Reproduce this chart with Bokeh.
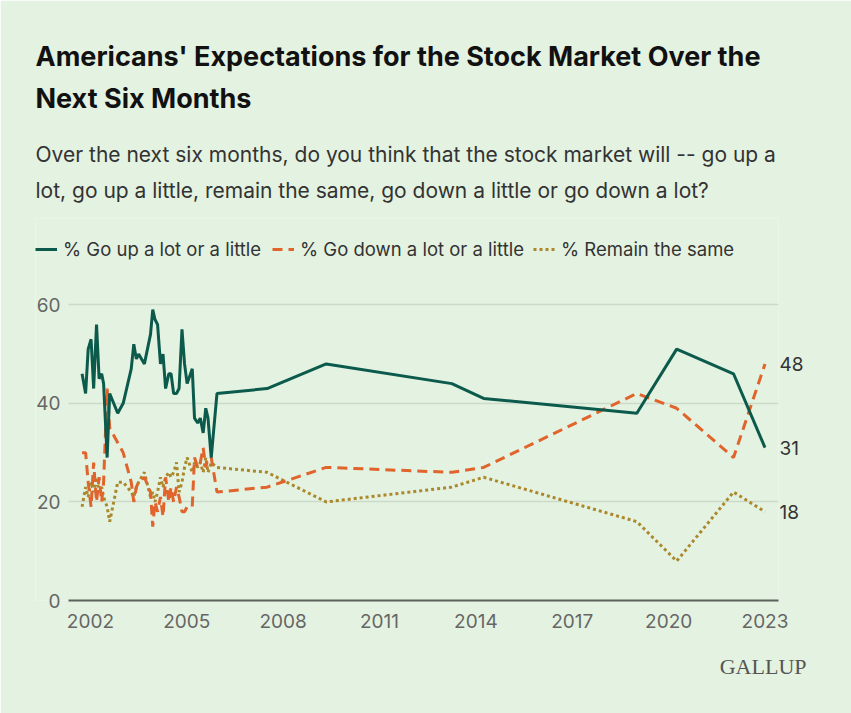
from bokeh.plotting import figure
from bokeh.models import (Range1d, FixedTicker, LinearAxis, Legend,
                          LegendItem, ColumnDataSource, Title, Grid)
from bokeh.embed import file_html
from bokeh.resources import INLINE

# ---------------- data ----------------
years = [2001.74, 2001.85, 2001.93, 2002.02, 2002.10, 2002.19, 2002.27, 2002.35,
         2002.41, 2002.52, 2002.60, 2002.85, 2003.02, 2003.27, 2003.35, 2003.43,
         2003.50, 2003.68, 2003.87, 2003.94, 2004.01, 2004.09, 2004.18, 2004.26,
         2004.34, 2004.44, 2004.51, 2004.59, 2004.68, 2004.76, 2004.85, 2004.93,
         2005.01, 2005.17, 2005.24, 2005.34, 2005.42, 2005.51, 2005.59, 2005.66,
         2005.76, 2005.94, 2007.50, 2009.34, 2013.25, 2014.24, 2019.01, 2020.25,
         2022.02, 2023.00]

go_up = [46, 42, 51, 53, 43, 56, 45, 46,
         44, 29, 42, 38, 40, 47, 52, 49,
         50, 48, 54, 59, 57, 56, 48, 50,
         43, 46, 46, 42, 42, 43, 55, 48,
         44, 47, 37, 36, 37, 34, 39, 37,
         29, 42, 43, 48, 44, 41, 38, 51,
         46, 31]

go_down = [30, 30, 24, 19, 28, 20, 25, 20,
           24, 43, 35, 32, 30, 24, 20, 23,
           24, 25, 22, 15, 20, 18, 21, 17,
           25, 20, 23, 20, 23, 21, 18, 18,
           19, 19, 29, 27, 28, 31, 27, 29,
           29, 22, 23, 27, 26, 27, 42, 39,
           29, 48]

remain = [19, 23, 21, 24, 22, 25, 22, 23,
          21, 19, 16, 24, 24, 22, 21, 23,
          24, 26, 21, 22, 20, 22, 25, 23,
          25, 26, 25, 26, 28, 22, 24, 27,
          29, 26, 28, 27, 28, 26, 29, 26,
          28, 27, 26, 20, 23, 25, 16, 8,
          22, 18]

x_ticks = [2002, 2005, 2008, 2011, 2014, 2017, 2020, 2023]
y_ticks = [0, 20, 40, 60]

title_lines = ["Americans' Expectations for the Stock Market Over the",
               "Next Six Months"]
subtitle_lines = ["Over the next six months, do you think that the stock market will -- go up a",
                  "lot, go up a little, remain the same, go down a little or go down a lot?"]
legend_labels = ["% Go up a lot or a little", "% Go down a lot or a little",
                 "% Remain the same"]
source_text = "GALLUP"

# ---------------- styling ----------------
BG = "#e4f2e1"
GREEN = "#0b5a4b"
ORANGE = "#e0642b"
GOLD = "#ab882b"
FONT = "Inter"

# axis extent (the visible axis line / grid) and the full frame extent
AXIS_START, AXIS_END = 2001.32, 2023.42
FRAME_START = 2000.29          # frame reaches left to the text margin
Y_TOP = 77.5                   # frame reaches up to the legend row

src = ColumnDataSource(dict(year=years, up=go_up, down=go_down, same=remain))

p = figure(width=851, height=713, output_backend="svg", toolbar_location=None,
           x_range=Range1d(FRAME_START, AXIS_END), y_range=Range1d(0, Y_TOP),
           title=None, min_border_left=35, min_border_right=73,
           min_border_top=218, min_border_bottom=113,
           background_fill_color=BG, border_fill_color=BG,
           outline_line_color=None)

xa = p.xaxis[0]
xa.ticker = FixedTicker(ticks=x_ticks)
xa.bounds = (AXIS_START, AXIS_END)
xa.axis_line_color = "#5a615a"
xa.axis_line_width = 2
xa.major_tick_line_color = None
xa.major_tick_out = 0
xa.major_tick_in = 0
xa.minor_tick_line_color = None
xa.major_label_standoff = 13
xa.major_label_text_font = FONT
xa.major_label_text_font_size = "19px"
xa.major_label_text_color = "#666666"

ya = p.yaxis[0]
ya.ticker = FixedTicker(ticks=y_ticks)
ya.axis_line_color = None
ya.major_tick_line_color = None
ya.major_tick_out = 0
ya.major_tick_in = 0
ya.minor_tick_line_color = None
ya.major_label_standoff = -25
ya.major_label_text_font = FONT
ya.major_label_text_font_size = "19px"
ya.major_label_text_color = "#666666"

p.xgrid.visible = False
yg = p.ygrid[0]
yg.ticker = FixedTicker(ticks=y_ticks)
yg.grid_line_color = "#cbdac9"
yg.grid_line_width = 1.5
if "cross_bounds" in Grid.properties():
    yg.cross_bounds = (AXIS_START, AXIS_END)

r_same = p.line("year", "same", source=src, line_color=GOLD, line_width=3,
                line_dash="3 3")
r_down = p.line("year", "down", source=src, line_color=ORANGE, line_width=3,
                line_dash="10 6")
r_up = p.line("year", "up", source=src, line_color=GREEN, line_width=3)

# end-value labels on the right
end_vals = [go_down[-1], go_up[-1], remain[-1]]
ra = LinearAxis(ticker=FixedTicker(ticks=end_vals))
ra.axis_line_color = None
ra.major_tick_line_color = None
ra.major_tick_out = 0
ra.major_tick_in = 0
ra.minor_tick_line_color = None
ra.major_label_standoff = 1
ra.major_label_text_font = FONT
ra.major_label_text_font_size = "19px"
ra.major_label_text_color = "#333333"
p.add_layout(ra, "right")

# ---------------- legend (inside the frame's top strip) ----------------
for lab, r, lx in zip(legend_labels, [r_up, r_down, r_same], [0, 237, 498]):
    lg = Legend(items=[LegendItem(label=lab, renderers=[r])],
                location=(lx, 340), orientation="horizontal",
                background_fill_alpha=0, border_line_alpha=0, padding=0,
                margin=0, glyph_width=22, glyph_height=20, label_height=20,
                label_standoff=6, label_text_font=FONT,
                label_text_font_size="18.5px", label_text_color="#333333")
    p.add_layout(lg)

# ---------------- header (stacked above the frame; first added = nearest) ----
p.add_layout(Title(text="\n".join(subtitle_lines), align="left", offset=0,
                   vertical_align="bottom", standoff=32, text_font=FONT,
                   text_font_size="21px", text_font_style="normal",
                   text_line_height=1.42, text_color="#333333"), "above")
p.add_layout(Title(text="\n".join(title_lines), align="left", offset=0,
                   vertical_align="bottom", standoff=16, text_font=FONT,
                   text_font_size="27px", text_font_style="bold",
                   text_line_height=1.28, text_color="#111111"), "above")
p.add_layout(Title(text=" ", align="left", offset=0, vertical_align="bottom",
                   standoff=14, text_font=FONT, text_font_size="10px"), "above")

# ---------------- footer: source mark ----------------
p.add_layout(Title(text=source_text, align="right", offset=-28,
                   vertical_align="bottom", standoff=43,
                   text_font="Liberation Serif", text_font_size="22px",
                   text_font_style="normal", text_color="#555555"), "below")

open("out.html", "w").write(file_html(p, INLINE))
